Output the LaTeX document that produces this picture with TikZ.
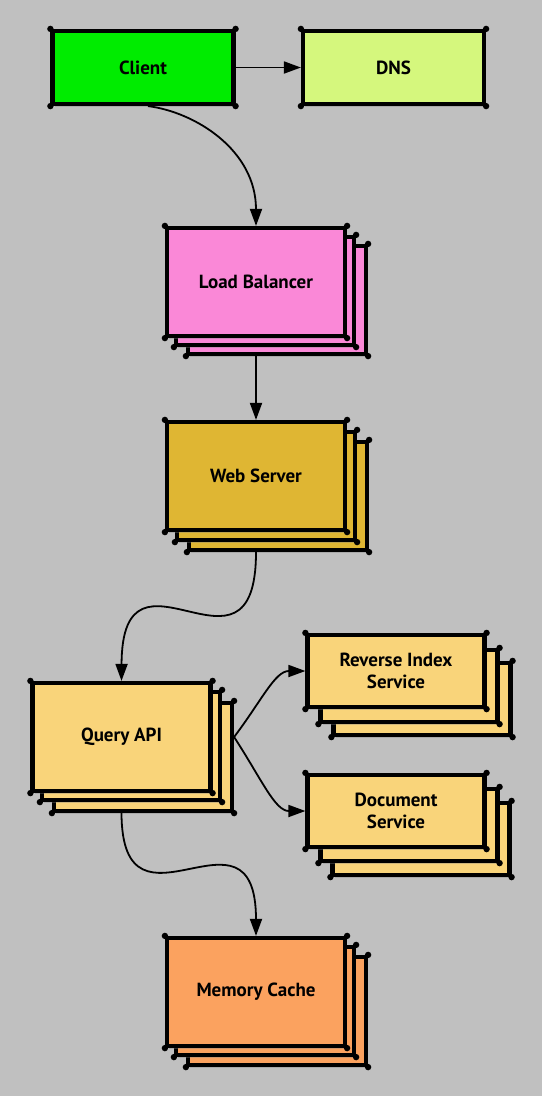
\documentclass[tikz,border=0pt]{standalone}
\usepackage{fontspec}
\setmainfont{PT Sans}
\usetikzlibrary{arrows.meta,shadows}
\definecolor{bg}{HTML}{C0C0C0}
\definecolor{clientc}{HTML}{00EC00}
\definecolor{dnsc}{HTML}{D5F77D}
\definecolor{lbc}{HTML}{FA88D7}
\definecolor{webc}{HTML}{DFB633}
\definecolor{qc}{HTML}{F9D47A}
\definecolor{memc}{HTML}{FBA25F}
\tikzset{
  box/.style={draw=black, line width=4.2pt, inner sep=0pt, align=center, text=black,
    font=\fontsize{19}{22}\selectfont\bfseries,
    drop shadow={shadow xshift=2pt, shadow yshift=-3pt, opacity=0.35}},
  bigbox/.style={box, minimum width=178pt, minimum height=108pt},
  smallbox/.style={box, minimum width=177pt, minimum height=72pt},
  flatbox/.style={box, minimum width=181pt, minimum height=73pt},
  conn/.style={line width=1.8pt, -{Triangle[length=17pt,width=12pt]}},
  cornerdot/.style={fill=black}
}
\newcommand\cornerdots[1]{%
  \foreach \c in {north west,north east,south west,south east}
    \fill[cornerdot] (#1.\c) circle (3.2pt);}
\begin{document}
\begin{tikzpicture}[x=1pt,y=-1pt]
\fill[bg] (0,0) rectangle (542,1096);
\useasboundingbox (0,0) rectangle (542,1096);

% top row
\node[flatbox, fill=clientc] (client) at (143,67.5) {Client};\cornerdots{client}
\node[flatbox, fill=dnsc] (dns) at (393.5,67.5) {DNS};\cornerdots{dns}

% load balancer stack
\node[bigbox, fill=lbc] (lb3) at (277,300) {};\cornerdots{lb3}
\node[bigbox, fill=lbc] (lb2) at (265,291) {};\cornerdots{lb2}
\node[bigbox, fill=lbc] (lb) at (256,282) {Load Balancer};\cornerdots{lb}

% web server stack
\node[bigbox, fill=webc] (web3) at (278,496) {};\cornerdots{web3}
\node[bigbox, fill=webc] (web2) at (266,486) {};\cornerdots{web2}
\node[bigbox, fill=webc] (web) at (256,476) {Web Server};\cornerdots{web}

% query api stack
\node[bigbox, fill=qc] (qa3) at (143,757) {};\cornerdots{qa3}
\node[bigbox, fill=qc] (qa2) at (131,746) {};\cornerdots{qa2}
\node[bigbox, fill=qc] (qa) at (121.5,737) {Query API};\cornerdots{qa}

% reverse index stack
\node[smallbox, fill=qc] (ri3) at (422,699) {};\cornerdots{ri3}
\node[smallbox, fill=qc] (ri2) at (409,686) {};\cornerdots{ri2}
\node[smallbox, fill=qc] (ri) at (396,671) {Reverse Index\\Service};\cornerdots{ri}

% document stack
\node[smallbox, fill=qc] (doc3) at (421,839) {};\cornerdots{doc3}
\node[smallbox, fill=qc] (doc2) at (409,825) {};\cornerdots{doc2}
\node[smallbox, fill=qc] (doc) at (396,811) {Document\\Service};\cornerdots{doc}

% memory cache stack
\node[bigbox, fill=memc] (mc3) at (277,1011) {};\cornerdots{mc3}
\node[bigbox, fill=memc] (mc2) at (265,1001) {};\cornerdots{mc2}
\node[bigbox, fill=memc] (mc) at (256,992) {Memory Cache};\cornerdots{mc}

% connectors
\draw[conn] (client.east) -- (dns.west);
\draw[conn] ([xshift=5pt]client.south) .. controls (195,112) and (256,150) .. (lb.north);
\draw[conn] (lb3.south -| lb.south) -- (web.north);
\draw[conn] (web3.south -| web.south) .. controls (256,700) and (122,525) .. (qa.north);
\draw[conn] (qa.east -| qa3.east) .. controls (262,700) and (275,671) .. (ri.west);
\draw[conn] (qa.east -| qa3.east) .. controls (262,780) and (275,811) .. (doc.west);
\draw[conn] (qa3.south -| qa.south) .. controls (122,950) and (256,790) .. (mc.north);
\end{tikzpicture}
\end{document}
